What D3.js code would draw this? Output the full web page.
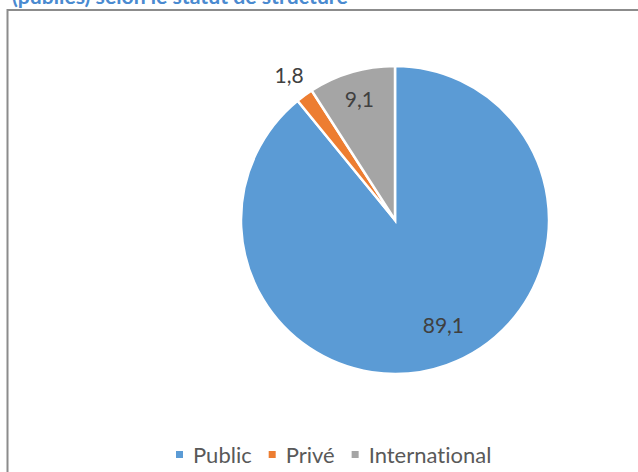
<!DOCTYPE html>
<html>
<head>
<meta charset="utf-8">
<script src="https://cdn.jsdelivr.net/npm/d3@7"></script>
<style>
  html, body { margin: 0; padding: 0; background: #ffffff; }
  svg { display: block; }
  text { font-variant-ligatures: none; font-feature-settings: "liga" 0; }
</style>
</head>
<body>
<svg id="chart" width="638" height="472"></svg>
<script>
// Répartition selon le statut de structure (%)
const categories = ["Public", "Privé", "International"];
const values = [89.1, 1.8, 9.1];
const labels = ["89,1", "1,8", "9,1"];
const colors = ["#5b9bd5", "#ed7d31", "#a5a5a5"];
const titleText = "(publiés) selon le statut de structure";

const svg = d3.select("#chart");
const W = 638, H = 472;
const font = "Lato, 'Open Sans', sans-serif";

// Title, partly above the visible area
const title = svg.append("text")
  .attr("x", 12).attr("y", 4)
  .attr("font-family", font)
  .attr("font-weight", "bold")
  .attr("font-size", 15)
  .attr("fill", "#4a8ad0")
  .text(titleText);
const tw = title.node().getComputedTextLength();
title.attr("font-size", 15 * 336 / tw);

// Chart frame
svg.append("rect")
  .attr("x", 7.5).attr("y", 10)
  .attr("width", W + 20).attr("height", H + 20)
  .attr("fill", "none")
  .attr("stroke", "#8c8c8c")
  .attr("stroke-width", 2);

// Pie
const cx = 395, cy = 220, r = 154;
const pie = d3.pie().sort(null).value(d => d.value);
const data = categories.map((c, i) => ({ cat: c, value: values[i], label: labels[i], color: colors[i] }));
const arcs = pie(data);
const arc = d3.arc().innerRadius(0).outerRadius(r);

const g = svg.append("g").attr("transform", `translate(${cx},${cy})`);
g.selectAll("path.slice")
  .data(arcs)
  .join("path")
  .attr("class", "slice")
  .attr("d", arc)
  .attr("fill", d => d.data.color)
  .attr("stroke", "#ffffff")
  .attr("stroke-width", 2.5)
  .attr("stroke-linejoin", "miter");

// Data labels: inside for large slices, outside for small ones
const labelRadius = d => (d.endAngle - d.startAngle) < 0.2 ? r * 1.17 : (d.value > 50 ? r * 0.75 : r * 0.82);
const labelAngle = d => (d.startAngle + d.endAngle) / 2 - (d.value > 50 ? 0.09 : 0);
g.selectAll("text.val")
  .data(arcs)
  .join("text")
  .attr("class", "val")
  .attr("x", d => Math.sin(labelAngle(d)) * labelRadius(d))
  .attr("y", d => -Math.cos(labelAngle(d)) * labelRadius(d))
  .attr("text-anchor", "middle")
  .attr("dominant-baseline", "central")
  .attr("font-family", font)
  .attr("font-size", 21)
  .attr("fill", "#404040")
  .text(d => d.data.label);

// Legend
const legend = svg.append("g").attr("transform", "translate(0,463)");
const items = legend.selectAll("g.item")
  .data(data)
  .join("g")
  .attr("class", "item");
items.append("rect")
  .attr("width", 7).attr("height", 7)
  .attr("y", -12)
  .attr("fill", d => d.color);
items.append("text")
  .attr("x", 17)
  .attr("font-family", font)
  .attr("font-size", 22)
  .attr("fill", "#595959")
  .text(d => d.cat);
// lay items out one after another under the plot
const widths = [];
items.each(function () { widths.push(17 + this.querySelector("text").getComputedTextLength()); });
const gap = 17;
let x0 = 176;
items.attr("transform", (d, i) => { const x = x0; x0 += widths[i] + gap; return `translate(${x},0)`; });
</script>
</body>
</html>
